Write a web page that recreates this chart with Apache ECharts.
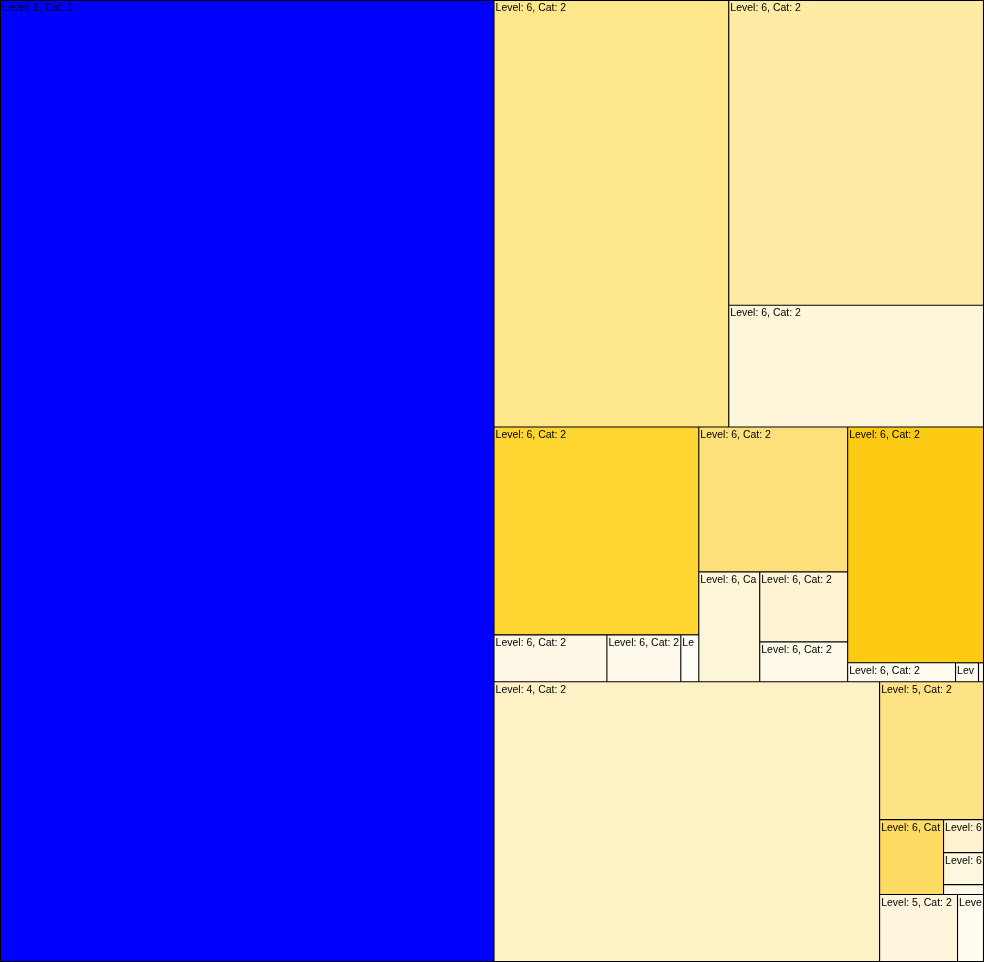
<!DOCTYPE html>
<html>
<head>
<meta charset="utf-8">
<script src="https://cdn.jsdelivr.net/npm/echarts@6/dist/echarts.min.js"></script>
<style>
html, body { margin: 0; padding: 0; background: #000; }
#chart { width: 984px; height: 962px; }
</style>
</head>
<body>
<div id="chart"></div>
<script>
// Tree nodes: name, parent index (-1 = top level), leaf value (null = group), leaf colour
const nodeNames = [
  'Level: 1, Cat: 1', 'Level: 1, Cat: 2', 'Level: 2, Cat: 2', 'Level: 6, Cat: 2', 'Level: 5, Cat: 2',
  'Level: 6, Cat: 2', 'Level: 6, Cat: 2', 'Level: 2, Cat: 2', 'Level: 3, Cat: 2', 'Level: 6, Cat: 2',
  'Level: 5, Cat: 2', 'Level: 6, Cat: 2', 'Level: 6, Cat: 2', 'Level: 6, Cat: 2', 'Level: 3, Cat: 2',
  'Level: 6, Cat: 2', 'Level: 4, Cat: 2', 'Level: 6, Cat: 2', 'Level: 5, Cat: 2', 'Level: 6, Cat: 2',
  'Level: 6, Cat: 2', 'Level: 3, Cat: 2', 'Level: 6, Cat: 2', 'Level: 5, Cat: 2', 'Level: 6, Cat: 2',
  'Level: 6, Cat: 2', 'Level: 6, Cat: 2', 'Level: 2, Cat: 2', 'Level: 4, Cat: 2', 'Level: 4, Cat: 2',
  'Level: 5, Cat: 2', 'Level: 5, Cat: 2', 'Level: 6, Cat: 2', 'Level: 6, Cat: 2', 'Level: 6, Cat: 2',
  'Level: 6, Cat: 2', 'Level: 6, Cat: 2', 'Level: 5, Cat: 2', 'Level: 5, Cat: 2', 'Level: 5, Cat: 2'
];
const nodeParents = [
  -1, -1, 1, 2, 2,
  4, 4, 1, 7, 8,
  8, 10, 10, 10, 7,
  14, 14, 16, 16, 18,
  18, 7, 21, 21, 23,
  23, 23, 1, 27, 27,
  29, 29, 31, 31, 33,
  33, 33, 29, 37, 37
];
const nodeValues = [
  475228, null, null, 100345, null,
  77775, 31110, null, null, 42640,
  null, 5311, 3478, 846, null,
  21605, null, 6710, null, 6160,
  3520, null, 32096, null, 2052,
  437, 95, null, 108080, null,
  14352, null, 4800, null, 1320,
  1280, 400, null, 5226, 1742
];
const nodeColors = [
  '#0000ff', null, null, '#fee68a', null,
  '#feeba4', '#fef6da', null, null, '#ffd531',
  null, '#fff8e6', '#fff9eb', '#fffdf6', null,
  '#fee07b', null, '#fef6d8', null, '#fef4d4',
  '#fff9e9', null, '#fecb14', null, '#fffbef',
  '#fffbef', '#fffbef', null, '#fef1c6', null,
  '#fee286', null, '#fedc64', null, '#fef3cf',
  '#fef7e0', '#fffaea', null, '#fef5dc', '#fffcf0'
];

function buildNode(i) {
  const kids = [];
  nodeParents.forEach((p, j) => { if (p === i) kids.push(buildNode(j)); });
  const node = { name: nodeNames[i] };
  if (kids.length) {
    node.children = kids;
    node.itemStyle = { borderWidth: 0, gapWidth: 0 };
    node.label = { show: false };
  } else {
    node.value = nodeValues[i];
    node.itemStyle = { color: nodeColors[i], borderColor: '#000', borderWidth: 0.55, gapWidth: 0 };
  }
  return node;
}
const treeData = [];
nodeParents.forEach((p, i) => { if (p === -1) treeData.push(buildNode(i)); });

const chart = echarts.init(document.getElementById('chart'));
chart.setOption({
  backgroundColor: '#000',
  animation: false,
  series: [{
    type: 'treemap',
    left: 0.5, top: 0.5, width: 983, height: 961,
    sort: false,
    squareRatio: 0.95,
    roam: false,
    nodeClick: false,
    breadcrumb: { show: false },
    visibleMin: 0,
    itemStyle: { borderWidth: 0, gapWidth: 0, borderColor: '#000' },
    levels: [{ itemStyle: { borderWidth: 0, gapWidth: 0 } }],
    upperLabel: { show: false },
    label: {
      show: true,
      position: 'insideTopLeft',
      distance: 1,
      padding: [1, 0, 0, 0],
      color: '#000',
      fontSize: 10.5,
      fontFamily: 'Liberation Sans',
      overflow: 'truncate',
      lineOverflow: 'none',
      ellipsis: '',
      formatter: '{b}'
    },
    data: treeData
  }]
});
</script>
</body>
</html>
